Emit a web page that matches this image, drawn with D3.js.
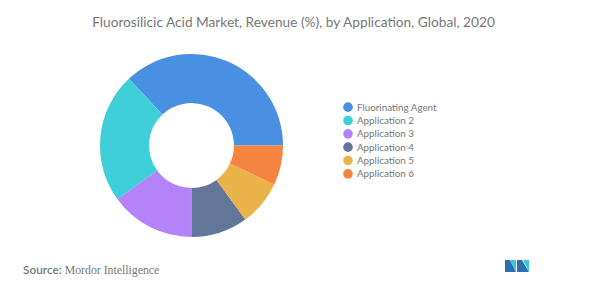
<!DOCTYPE html>
<html>
<head>
<meta charset="utf-8">
<script src="https://cdn.jsdelivr.net/npm/d3@7"></script>
<style>
  body { margin: 0; background: #fff; }
</style>
</head>
<body>
<div id="chart"></div>
<script>
const width = 598;
const height = 291;

//data
const categories = ["Fluorinating Agent", "Application 2", "Application 3", "Application 4", "Application 5", "Application 6"];
const shares = [37, 23, 15, 10, 8, 7];
const colors = ["#4a90e2", "#3fcfd9", "#b483f7", "#62769a", "#ebb44b", "#f4843f"];

const svg = d3.select("#chart")
  .append("svg")
  .attr("width", width)
  .attr("height", height);

//title
svg.append("text")
  .attr("x", 293.5)
  .attr("y", 27)
  .attr("text-anchor", "middle")
  .attr("font-family", "Lato, 'Open Sans', sans-serif")
  .attr("font-size", "13.7px")
  .attr("fill", "#777")
  .text("Fluorosilicic Acid Market, Revenue (%), by Application, Global, 2020");

//donut: first slice starts at 3 o'clock and runs counterclockwise
const pie = d3.pie()
  .sort(null)
  .startAngle(Math.PI / 2)
  .endAngle(Math.PI / 2 - 2 * Math.PI);

const arc = d3.arc()
  .innerRadius(42.5)
  .outerRadius(91.5);

const g = svg.append("g")
  .attr("transform", "translate(191.5,145.5)");

g.selectAll("path")
  .data(pie(shares))
  .enter()
  .append("path")
  .attr("d", arc)
  .attr("fill", (d, i) => colors[i]);

//legend
const legendY = d3.scaleBand()
  .domain(categories)
  .range([100.5, 180.5]);

const legend = svg.selectAll(".legend-item")
  .data(categories)
  .enter()
  .append("g")
  .attr("class", "legend-item")
  .attr("transform", (d) => `translate(348,${legendY(d) + legendY.bandwidth() / 2})`);

legend.append("circle")
  .attr("r", 4.8)
  .attr("fill", (d, i) => colors[i]);

legend.append("text")
  .attr("x", 9)
  .attr("dy", "0.35em")
  .attr("font-family", "Lato, 'Open Sans', sans-serif")
  .attr("font-size", "9.8px")
  .attr("fill", "#777")
  .text((d) => d);

//source line
const source = svg.append("text")
  .attr("x", 23)
  .attr("y", 274)
  .attr("font-size", "11.8px")
  .attr("fill", "#777");
source.append("tspan")
  .attr("font-family", "Lato, sans-serif")
  .attr("font-weight", "600")
  .text("Source: ");
source.append("tspan")
  .attr("font-family", "'Liberation Serif', 'DejaVu Serif', serif")
  .text("Mordor Intelligence");

//logo
const logo = svg.append("g").attr("transform", "translate(505,260)");
logo.append("path").attr("d", "M0,0 L5,0 L11,12 L0,12 Z").attr("fill", "#2a6fb0");
logo.append("path").attr("d", "M5,0 L11,0 L11,12 Z").attr("fill", "#3ec6d8");
logo.append("path").attr("d", "M12,0 L17,0 L24,12 L12,12 Z").attr("fill", "#2a6fb0");
logo.append("path").attr("d", "M18,0 L24,0 L24,12 Z").attr("fill", "#3ec6d8");
</script>
</body>
</html>
